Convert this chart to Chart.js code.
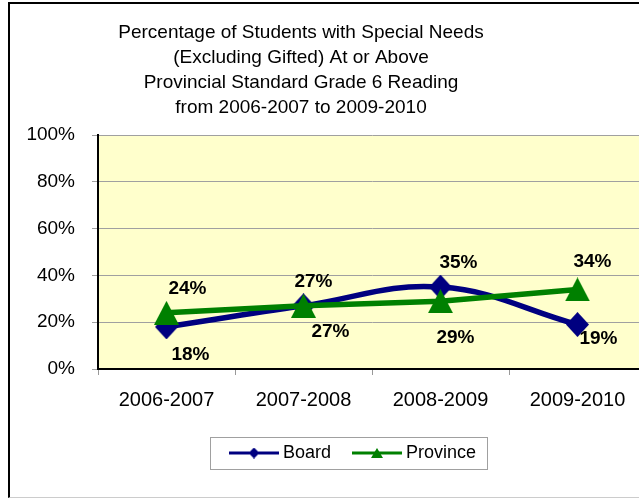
<!DOCTYPE html>
<html lang="en">
<head>
  <meta charset="UTF-8">
  <title>Special Needs Reading Results</title>
  <script src="https://cdn.jsdelivr.net/npm/chart.js"></script>
  <style>
    html, body {
      margin: 0;
      padding: 0;
      background: #fff;
      overflow: hidden;
    }
    .frame {
      position: absolute;
      left: 8px;
      top: 2px;
      width: 720px;
      height: 493px;
      border-left: 2px solid #000;
      border-top: 2px solid #000;
      border-bottom: 1px solid #ccc;
    }
    .chart-box {
      position: absolute;
      left: 0;
      top: 0;
      width: 700px;
      height: 499px;
    }
  </style>
</head>
<body>
  <div class="frame"></div>
  <div class="chart-box"><canvas id="readingChart"></canvas></div>

  <script>
    const years = ['2006-2007', '2007-2008', '2008-2009', '2009-2010'];
    const boardPct = [18, 27, 35, 19];
    const provincePct = [24, 27, 29, 34];
    const yTicks = [0, 20, 40, 60, 80, 100];
    const titleLines = [
      'Percentage of Students with Special Needs',
      '(Excluding Gifted) At or Above',
      'Provincial Standard Grade 6 Reading',
      'from 2006-2007 to 2009-2010'
    ];

    const FONT = 'Arial, "Liberation Sans", sans-serif';
    const NAVY = '#000080';
    const GREEN = '#008000';
    Chart.defaults.font.family = FONT;
    Chart.defaults.color = '#000';

    // filled diamond / triangle drawn into a w x h box, optionally with a line through it
    function markerCanvas(color, shape, w, h, lineLen) {
      const cw = lineLen || w;
      const c = document.createElement('canvas');
      c.width = cw;
      c.height = h;
      const g = c.getContext('2d');
      const cx = cw / 2;
      if (lineLen) {
        g.strokeStyle = color;
        g.lineWidth = 3;
        g.beginPath();
        g.moveTo(0, h / 2);
        g.lineTo(cw, h / 2);
        g.stroke();
      }
      g.fillStyle = color;
      g.beginPath();
      if (shape === 'diamond') {
        g.moveTo(cx, 0); g.lineTo(cx + w / 2, h / 2); g.lineTo(cx, h); g.lineTo(cx - w / 2, h / 2);
      } else {
        g.moveTo(cx, 0); g.lineTo(cx + w / 2, h); g.lineTo(cx - w / 2, h);
      }
      g.closePath();
      g.fill();
      return c;
    }
    const boardMarker = markerCanvas(NAVY, 'diamond', 23, 25);
    const provinceMarker = markerCanvas(GREEN, 'triangle', 25, 24);
    const legendMarks = [
      markerCanvas(NAVY, 'diamond', 11, 11, 50),
      markerCanvas(GREEN, 'triangle', 12, 10, 50)
    ];

    // yellow plot background
    const plotBackground = {
      id: 'plotBackground',
      beforeDraw(chart) {
        const {ctx, chartArea: a} = chart;
        ctx.save();
        ctx.fillStyle = '#FFFFCC';
        ctx.fillRect(a.left, a.top, a.right - a.left, a.bottom - a.top);
        ctx.restore();
      }
    };

    // put title and legend where they belong horizontally
    const boxCenters = {
      id: 'boxCenters',
      afterLayout(chart, args, opts) {
        [[chart.titleBlock, opts.title], [chart.legend, opts.legend]].forEach(([box, cx]) => {
          const d = cx - (box.left + box.right) / 2;
          box.left += d;
          box.right += d;
        });
      }
    };

    // thin grey box round the legend entries
    const legendFrame = {
      id: 'legendFrame',
      afterDraw(chart) {
        const boxes = chart.legend.legendHitBoxes;
        if (!boxes || !boxes.length) return;
        const first = boxes[0], last = boxes[boxes.length - 1];
        const left = first.left - 24, right = last.left + last.width + 11;
        const top = first.top - 7, bottom = first.top + first.height + 7;
        const ctx = chart.ctx;
        ctx.save();
        ctx.strokeStyle = '#a0a0a0';
        ctx.lineWidth = 1;
        ctx.strokeRect(Math.round(left) + 0.5, Math.round(top) + 0.5, Math.round(right - left), Math.round(bottom - top));
        ctx.restore();
      }
    };

    // bold percentage next to each point
    const valueLabels = {
      id: 'valueLabels',
      afterDatasetsDraw(chart) {
        const ctx = chart.ctx;
        ctx.save();
        ctx.font = 'bold 19px ' + FONT;
        ctx.fillStyle = '#000';
        ctx.textAlign = 'center';
        ctx.textBaseline = 'middle';
        chart.data.datasets.forEach((ds, i) => {
          chart.getDatasetMeta(i).data.forEach((pt, j) => {
            const [dx, dy] = ds.labelOffsets[j];
            ctx.fillText(ds.data[j] + '%', pt.x + dx, pt.y + dy);
          });
        });
        ctx.restore();
      }
    };

    new Chart(document.getElementById('readingChart'), {
      type: 'line',
      data: {
        labels: years,
        datasets: [{
          label: 'Board',
          data: boardPct,
          borderColor: NAVY,
          backgroundColor: NAVY,
          borderWidth: 5.5,
          tension: 0.4,
          pointStyle: boardMarker,
          pointRadius: 11,
          order: 1,
          labelOffsets: [[24, 28], [10, -24], [18, -24], [21, 14]]
        }, {
          label: 'Province',
          data: provincePct,
          borderColor: GREEN,
          backgroundColor: GREEN,
          borderWidth: 5.5,
          tension: 0,
          pointStyle: provinceMarker,
          pointRadius: 12,
          order: 0,
          labelOffsets: [[21, -24], [27, 26], [15, 37], [15, -28]]
        }]
      },
      options: {
        responsive: true,
        maintainAspectRatio: false,
        animation: false,
        layout: {
          padding: {left: 10, right: 54, top: 0, bottom: 27}
        },
        scales: {
          x: {
            offset: true,
            border: {display: true, color: '#000', width: 2},
            grid: {
              offset: true,
              drawOnChartArea: false,
              drawTicks: true,
              tickLength: 6,
              color: '#999'
            },
            ticks: {
              font: {size: 20},
              color: '#000',
              padding: 13,
              maxRotation: 0
            },
            afterFit(scale) { scale.height = 49; }
          },
          y: {
            min: 0,
            max: 100,
            border: {display: true, color: '#000', width: 2},
            grid: {
              color: '#a0a0a0',
              tickLength: 6
            },
            afterBuildTicks(scale) {
              scale.ticks = yTicks.map(v => ({value: v}));
            },
            ticks: {
              font: {size: 19},
              color: '#000',
              padding: 17,
              callback: v => v + '%'
            },
            afterFit(scale) { scale.width = 88; }
          }
        },
        plugins: {
          title: {
            display: true,
            text: titleLines,
            font: {size: 19, weight: 'normal', lineHeight: 25 / 19},
            color: '#000',
            padding: {top: 20, bottom: 15}
          },
          legend: {
            position: 'bottom',
            labels: {
              usePointStyle: true,
              pointStyleWidth: 40,
              padding: 26,
              color: '#000',
              font: {size: 18},
              sort: (a, b) => a.datasetIndex - b.datasetIndex,
              generateLabels(chart) {
                return Chart.defaults.plugins.legend.labels.generateLabels(chart)
                  .map(item => Object.assign(item, {pointStyle: legendMarks[item.datasetIndex]}));
              }
            }
          },
          tooltip: {enabled: false},
          boxCenters: {title: 301, legend: 355}
        }
      },
      plugins: [plotBackground, boxCenters, legendFrame, valueLabels]
    });
  </script>
</body>
</html>
